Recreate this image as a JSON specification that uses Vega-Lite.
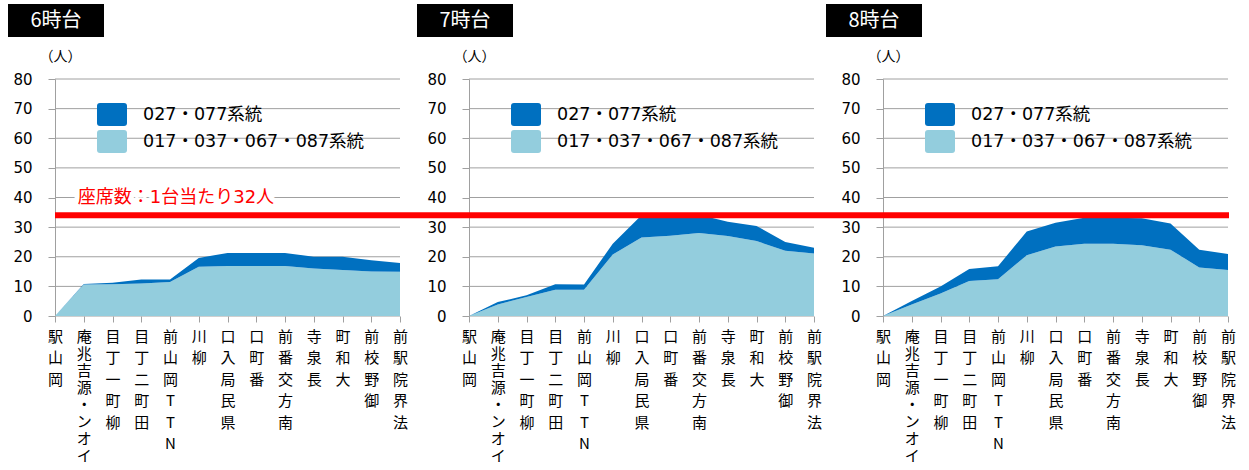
{
  "$schema": "https://vega.github.io/schema/vega-lite/v6.json",
  "background": "white",
  "padding": {"left": 8, "top": 4, "right": 5, "bottom": 0},
  "config": {
    "view": {"stroke": null},
    "font": "DejaVu Sans, Noto Sans CJK JP",
    "axisY": {"orient": "left", "grid": false, "domain": true, "domainColor": "#A0A0A0", "tickColor": "#A0A0A0", "tickSize": 7, "labelPadding": 16, "labelFlush": false, "labelFont": "DejaVu Sans", "labelFontSize": 15, "labelColor": "#000000", "titleAngle": 0, "titleX": 5, "titleY": -23, "titleAlign": "center", "titleBaseline": "middle", "titleFont": "Noto Sans CJK JP", "titleFontSize": 14, "titleFontWeight": "normal", "titleColor": "#000000"},
    "legend": {
      "orient": "none",
      "title": null,
      "symbolType": "M-0.8,-0.767H0.8Q1,-0.767,1,-0.567V0.567Q1,0.767,0.8,0.767H-0.8Q-1,0.767,-1,0.567V-0.567Q-1,-0.767,-0.8,-0.767Z",
      "symbolSize": 900,
      "symbolStrokeWidth": 0,
      "symbolOpacity": 1,
      "labelFont": "DejaVu Sans, Noto Sans CJK JP",
      "labelFontSize": 17.5,
      "labelColor": "#000000",
      "labelOffset": 16,
      "labelLimit": 400,
      "rowPadding": 0,
      "padding": 0
    }
  },
  "datasets": {
    "hours": [{"hour": "6時台"}, {"hour": "7時台"}, {"hour": "8時台"}],
    "grid": [{"g": 0}, {"g": 10}, {"g": 20}, {"g": 30}, {"g": 40}, {"g": 50}, {"g": 60}, {"g": 70}, {"g": 80}],
    "note": [{"label": "座席数：1台当たり32人"}],
    "main": [
      {"hour": "6時台", "station": "岡山駅", "series": "017・037・067・087系統", "value": 0},
      {"hour": "6時台", "station": "イオン・源吉兆庵", "series": "017・037・067・087系統", "value": 10.6},
      {"hour": "6時台", "station": "柳町一丁目", "series": "017・037・067・087系統", "value": 10.7},
      {"hour": "6時台", "station": "田町二丁目", "series": "017・037・067・087系統", "value": 11.0},
      {"hour": "6時台", "station": "NTT岡山前", "series": "017・037・067・087系統", "value": 11.5},
      {"hour": "6時台", "station": "柳川", "series": "017・037・067・087系統", "value": 16.6},
      {"hour": "6時台", "station": "県民局入口", "series": "017・037・067・087系統", "value": 16.9},
      {"hour": "6時台", "station": "番町口", "series": "017・037・067・087系統", "value": 16.9},
      {"hour": "6時台", "station": "南方交番前", "series": "017・037・067・087系統", "value": 16.9},
      {"hour": "6時台", "station": "長泉寺", "series": "017・037・067・087系統", "value": 16.0},
      {"hour": "6時台", "station": "大和町", "series": "017・037・067・087系統", "value": 15.5},
      {"hour": "6時台", "station": "御野校前", "series": "017・037・067・087系統", "value": 15.0},
      {"hour": "6時台", "station": "法界院駅前", "series": "017・037・067・087系統", "value": 14.9},
      {"hour": "6時台", "station": "岡山駅", "series": "027・077系統", "value": 0},
      {"hour": "6時台", "station": "イオン・源吉兆庵", "series": "027・077系統", "value": 0.2},
      {"hour": "6時台", "station": "柳町一丁目", "series": "027・077系統", "value": 0.5},
      {"hour": "6時台", "station": "田町二丁目", "series": "027・077系統", "value": 1.3},
      {"hour": "6時台", "station": "NTT岡山前", "series": "027・077系統", "value": 0.8},
      {"hour": "6時台", "station": "柳川", "series": "027・077系統", "value": 3.0},
      {"hour": "6時台", "station": "県民局入口", "series": "027・077系統", "value": 4.4},
      {"hour": "6時台", "station": "番町口", "series": "027・077系統", "value": 4.4},
      {"hour": "6時台", "station": "南方交番前", "series": "027・077系統", "value": 4.4},
      {"hour": "6時台", "station": "長泉寺", "series": "027・077系統", "value": 4.0},
      {"hour": "6時台", "station": "大和町", "series": "027・077系統", "value": 4.5},
      {"hour": "6時台", "station": "御野校前", "series": "027・077系統", "value": 3.8},
      {"hour": "6時台", "station": "法界院駅前", "series": "027・077系統", "value": 3.0},
      {"hour": "7時台", "station": "岡山駅", "series": "017・037・067・087系統", "value": 0},
      {"hour": "7時台", "station": "イオン・源吉兆庵", "series": "017・037・067・087系統", "value": 3.9},
      {"hour": "7時台", "station": "柳町一丁目", "series": "017・037・067・087系統", "value": 6.4},
      {"hour": "7時台", "station": "田町二丁目", "series": "017・037・067・087系統", "value": 8.9},
      {"hour": "7時台", "station": "NTT岡山前", "series": "017・037・067・087系統", "value": 8.9},
      {"hour": "7時台", "station": "柳川", "series": "017・037・067・087系統", "value": 20.8},
      {"hour": "7時台", "station": "県民局入口", "series": "017・037・067・087系統", "value": 26.5},
      {"hour": "7時台", "station": "番町口", "series": "017・037・067・087系統", "value": 27.1},
      {"hour": "7時台", "station": "南方交番前", "series": "017・037・067・087系統", "value": 28.0},
      {"hour": "7時台", "station": "長泉寺", "series": "017・037・067・087系統", "value": 27.0},
      {"hour": "7時台", "station": "大和町", "series": "017・037・067・087系統", "value": 25.3},
      {"hour": "7時台", "station": "御野校前", "series": "017・037・067・087系統", "value": 22.0},
      {"hour": "7時台", "station": "法界院駅前", "series": "017・037・067・087系統", "value": 21.1},
      {"hour": "7時台", "station": "岡山駅", "series": "027・077系統", "value": 0},
      {"hour": "7時台", "station": "イオン・源吉兆庵", "series": "027・077系統", "value": 0.8},
      {"hour": "7時台", "station": "柳町一丁目", "series": "027・077系統", "value": 0.6},
      {"hour": "7時台", "station": "田町二丁目", "series": "027・077系統", "value": 1.8},
      {"hour": "7時台", "station": "NTT岡山前", "series": "027・077系統", "value": 1.7},
      {"hour": "7時台", "station": "柳川", "series": "027・077系統", "value": 3.6},
      {"hour": "7時台", "station": "県民局入口", "series": "027・077系統", "value": 7.5},
      {"hour": "7時台", "station": "番町口", "series": "027・077系統", "value": 7.4},
      {"hour": "7時台", "station": "南方交番前", "series": "027・077系統", "value": 6.2},
      {"hour": "7時台", "station": "長泉寺", "series": "027・077系統", "value": 4.8},
      {"hour": "7時台", "station": "大和町", "series": "027・077系統", "value": 5.1},
      {"hour": "7時台", "station": "御野校前", "series": "027・077系統", "value": 3.0},
      {"hour": "7時台", "station": "法界院駅前", "series": "027・077系統", "value": 1.9},
      {"hour": "8時台", "station": "岡山駅", "series": "017・037・067・087系統", "value": 0},
      {"hour": "8時台", "station": "イオン・源吉兆庵", "series": "017・037・067・087系統", "value": 3.9},
      {"hour": "8時台", "station": "柳町一丁目", "series": "017・037・067・087系統", "value": 7.6},
      {"hour": "8時台", "station": "田町二丁目", "series": "017・037・067・087系統", "value": 11.8},
      {"hour": "8時台", "station": "NTT岡山前", "series": "017・037・067・087系統", "value": 12.4},
      {"hour": "8時台", "station": "柳川", "series": "017・037・067・087系統", "value": 20.5},
      {"hour": "8時台", "station": "県民局入口", "series": "017・037・067・087系統", "value": 23.5},
      {"hour": "8時台", "station": "番町口", "series": "017・037・067・087系統", "value": 24.4},
      {"hour": "8時台", "station": "南方交番前", "series": "017・037・067・087系統", "value": 24.4},
      {"hour": "8時台", "station": "長泉寺", "series": "017・037・067・087系統", "value": 23.9},
      {"hour": "8時台", "station": "大和町", "series": "017・037・067・087系統", "value": 22.4},
      {"hour": "8時台", "station": "御野校前", "series": "017・037・067・087系統", "value": 16.4},
      {"hour": "8時台", "station": "法界院駅前", "series": "017・037・067・087系統", "value": 15.5},
      {"hour": "8時台", "station": "岡山駅", "series": "027・077系統", "value": 0},
      {"hour": "8時台", "station": "イオン・源吉兆庵", "series": "027・077系統", "value": 1.2},
      {"hour": "8時台", "station": "柳町一丁目", "series": "027・077系統", "value": 2.4},
      {"hour": "8時台", "station": "田町二丁目", "series": "027・077系統", "value": 4.1},
      {"hour": "8時台", "station": "NTT岡山前", "series": "027・077系統", "value": 4.4},
      {"hour": "8時台", "station": "柳川", "series": "027・077系統", "value": 8.0},
      {"hour": "8時台", "station": "県民局入口", "series": "027・077系統", "value": 8.0},
      {"hour": "8時台", "station": "番町口", "series": "027・077系統", "value": 8.8},
      {"hour": "8時台", "station": "南方交番前", "series": "027・077系統", "value": 8.8},
      {"hour": "8時台", "station": "長泉寺", "series": "027・077系統", "value": 9.1},
      {"hour": "8時台", "station": "大和町", "series": "027・077系統", "value": 8.8},
      {"hour": "8時台", "station": "御野校前", "series": "027・077系統", "value": 6.0},
      {"hour": "8時台", "station": "法界院駅前", "series": "027・077系統", "value": 5.4}
    ]
  },
  "spacing": 12,
  "resolve": {"scale": {"x": "independent", "y": "independent", "color": "independent"}},
  "vconcat": [
    {
      "data": {"name": "hours"},
      "facet": {"column": {"field": "hour", "type": "nominal", "header": null}},
      "spacing": 313,
      "resolve": {"scale": {"x": "independent", "y": "independent"}},
      "spec": {
        "width": 96,
        "height": 33,
        "view": {"fill": "#000000", "stroke": null},
        "mark": {"type": "text", "color": "#ffffff", "fontSize": 20, "font": "Noto Sans CJK JP"},
        "encoding": {
          "text": {"field": "hour"},
          "x": {"field": "hour", "type": "nominal", "axis": null},
          "y": {"field": "hour", "type": "nominal", "axis": null}
        }
      }
    },
    {
      "spacing": 0,
      "bounds": "flush",
      "resolve": {"scale": {"x": "independent", "y": "independent", "color": "independent"}, "legend": {"color": "independent"}},
      "hconcat": [
        {
          "width": 47,
          "height": 237,
          "data": {"name": "note"},
          "mark": {"type": "text"},
          "encoding": {"text": {"value": ""}}
        },
        {
          "width": 414,
          "height": 237,
          "resolve": {"axis": {"x": "independent"}},
          "layer": [
            {
              "data": {"name": "grid"},
              "mark": {"type": "rule", "color": "#A0A0A0", "strokeWidth": 1},
              "encoding": {
                "y": {"field": "g", "type": "quantitative", "title": "（人）", "scale": {"domain": [0, 80], "nice": false}, "axis": {"values": [0, 10, 20, 30, 40, 50, 60, 70, 80]}},
                "x": {"datum": "岡山駅", "type": "nominal", "axis": {"orient": "bottom", "values": ["イオン・源吉兆庵"], "title": null, "domain": false, "grid": false, "ticks": true, "tickSize": 6, "tickColor": "#A0A0A0", "labelAngle": 0, "labelAlign": "center", "labelBaseline": "top", "labelPadding": 7, "labelLineHeight": 17, "labelFont": "Noto Sans CJK JP", "labelFontSize": 15, "labelColor": "#000000", "labelOverlap": false, "labelBound": false, "labelExpr": "reverse(split(datum.label, ''))"}},
                "x2": {"datum": "法界院駅前"}
              }
            },
            {
              "data": {"name": "main"},
              "transform": [{"filter": "datum.hour == '6時台'"}],
              "mark": {"type": "area", "opacity": 1},
              "encoding": {
                "x": {"field": "station", "type": "nominal", "scale": {"type": "point", "padding": 0, "range": [0, 345], "domain": ["岡山駅", "イオン・源吉兆庵", "柳町一丁目", "田町二丁目", "NTT岡山前", "柳川", "県民局入口", "番町口", "南方交番前", "長泉寺", "大和町", "御野校前", "法界院駅前"]}, "axis": {"orient": "bottom", "values": ["岡山駅", "柳町一丁目", "田町二丁目", "NTT岡山前", "柳川", "県民局入口", "番町口", "南方交番前", "長泉寺", "大和町", "御野校前", "法界院駅前"], "title": null, "domain": false, "grid": false, "ticks": true, "tickSize": 6, "tickColor": "#A0A0A0", "labelAngle": 0, "labelAlign": "center", "labelBaseline": "top", "labelPadding": 7, "labelLineHeight": 21.5, "labelFont": "Noto Sans CJK JP", "labelFontSize": 15, "labelColor": "#000000", "labelOverlap": false, "labelBound": false, "labelExpr": "reverse(split(datum.label, ''))"}},
                "y": {"field": "value", "type": "quantitative", "stack": "zero", "title": "（人）", "axis": {"values": [0, 10, 20, 30, 40, 50, 60, 70, 80]}},
                "color": {"field": "series", "type": "nominal", "scale": {"domain": ["027・077系統", "017・037・067・087系統"], "range": ["#0070C0", "#93CDDD"]}, "legend": {"legendX": 42, "legendY": 20.5}},
                "order": {"field": "series", "sort": "ascending"}
              }
            },
            {
              "data": {"name": "note"},
              "mark": {"type": "rule", "color": "#FF0000", "strokeWidth": 6},
              "encoding": {"y": {"datum": 34, "type": "quantitative", "title": "（人）", "axis": {"values": [0, 10, 20, 30, 40, 50, 60, 70, 80]}}}
            },
            {
              "data": {"name": "note"},
              "mark": {"type": "text", "align": "left", "baseline": "middle", "dx": -6, "fontSize": 18, "font": "DejaVu Sans, Noto Sans CJK JP", "fill": "#ffffff", "stroke": "#ffffff", "strokeWidth": 10, "strokeJoin": "round"},
              "encoding": {
                "text": {"field": "label"},
                "x": {"datum": "イオン・源吉兆庵", "type": "nominal", "axis": null},
                "y": {"datum": 40, "type": "quantitative", "title": "（人）", "axis": {"values": [0, 10, 20, 30, 40, 50, 60, 70, 80]}}
              }
            },
            {
              "data": {"name": "note"},
              "mark": {"type": "text", "align": "left", "baseline": "middle", "dx": -6, "fontSize": 18, "font": "DejaVu Sans, Noto Sans CJK JP", "color": "#FF0000"},
              "encoding": {
                "text": {"field": "label"},
                "x": {"datum": "イオン・源吉兆庵", "type": "nominal", "axis": null},
                "y": {"datum": 40, "type": "quantitative", "title": "（人）", "axis": {"values": [0, 10, 20, 30, 40, 50, 60, 70, 80]}}
              }
            }
          ]
        },
        {
          "width": 414,
          "height": 237,
          "resolve": {"axis": {"x": "independent"}},
          "layer": [
            {
              "data": {"name": "grid"},
              "mark": {"type": "rule", "color": "#A0A0A0", "strokeWidth": 1},
              "encoding": {
                "y": {"field": "g", "type": "quantitative", "title": "（人）", "scale": {"domain": [0, 80], "nice": false}, "axis": {"values": [0, 10, 20, 30, 40, 50, 60, 70, 80]}},
                "x": {"datum": "岡山駅", "type": "nominal", "axis": {"orient": "bottom", "values": ["イオン・源吉兆庵"], "title": null, "domain": false, "grid": false, "ticks": true, "tickSize": 6, "tickColor": "#A0A0A0", "labelAngle": 0, "labelAlign": "center", "labelBaseline": "top", "labelPadding": 7, "labelLineHeight": 17, "labelFont": "Noto Sans CJK JP", "labelFontSize": 15, "labelColor": "#000000", "labelOverlap": false, "labelBound": false, "labelExpr": "reverse(split(datum.label, ''))"}},
                "x2": {"datum": "法界院駅前"}
              }
            },
            {
              "data": {"name": "main"},
              "transform": [{"filter": "datum.hour == '7時台'"}],
              "mark": {"type": "area", "opacity": 1},
              "encoding": {
                "x": {"field": "station", "type": "nominal", "scale": {"type": "point", "padding": 0, "range": [0, 345], "domain": ["岡山駅", "イオン・源吉兆庵", "柳町一丁目", "田町二丁目", "NTT岡山前", "柳川", "県民局入口", "番町口", "南方交番前", "長泉寺", "大和町", "御野校前", "法界院駅前"]}, "axis": {"orient": "bottom", "values": ["岡山駅", "柳町一丁目", "田町二丁目", "NTT岡山前", "柳川", "県民局入口", "番町口", "南方交番前", "長泉寺", "大和町", "御野校前", "法界院駅前"], "title": null, "domain": false, "grid": false, "ticks": true, "tickSize": 6, "tickColor": "#A0A0A0", "labelAngle": 0, "labelAlign": "center", "labelBaseline": "top", "labelPadding": 7, "labelLineHeight": 21.5, "labelFont": "Noto Sans CJK JP", "labelFontSize": 15, "labelColor": "#000000", "labelOverlap": false, "labelBound": false, "labelExpr": "reverse(split(datum.label, ''))"}},
                "y": {"field": "value", "type": "quantitative", "stack": "zero", "title": "（人）", "axis": {"values": [0, 10, 20, 30, 40, 50, 60, 70, 80]}},
                "color": {"field": "series", "type": "nominal", "scale": {"domain": ["027・077系統", "017・037・067・087系統"], "range": ["#0070C0", "#93CDDD"]}, "legend": {"legendX": 42, "legendY": 20.5}},
                "order": {"field": "series", "sort": "ascending"}
              }
            },
            {
              "data": {"name": "note"},
              "mark": {"type": "rule", "color": "#FF0000", "strokeWidth": 6},
              "encoding": {"y": {"datum": 34, "type": "quantitative", "title": "（人）", "axis": {"values": [0, 10, 20, 30, 40, 50, 60, 70, 80]}}}
            }
          ]
        },
        {
          "width": 346,
          "height": 237,
          "resolve": {"axis": {"x": "independent"}},
          "layer": [
            {
              "data": {"name": "grid"},
              "mark": {"type": "rule", "color": "#A0A0A0", "strokeWidth": 1},
              "encoding": {
                "y": {"field": "g", "type": "quantitative", "title": "（人）", "scale": {"domain": [0, 80], "nice": false}, "axis": {"values": [0, 10, 20, 30, 40, 50, 60, 70, 80]}},
                "x": {"datum": "岡山駅", "type": "nominal", "axis": {"orient": "bottom", "values": ["イオン・源吉兆庵"], "title": null, "domain": false, "grid": false, "ticks": true, "tickSize": 6, "tickColor": "#A0A0A0", "labelAngle": 0, "labelAlign": "center", "labelBaseline": "top", "labelPadding": 7, "labelLineHeight": 17, "labelFont": "Noto Sans CJK JP", "labelFontSize": 15, "labelColor": "#000000", "labelOverlap": false, "labelBound": false, "labelExpr": "reverse(split(datum.label, ''))"}},
                "x2": {"datum": "法界院駅前"}
              }
            },
            {
              "data": {"name": "main"},
              "transform": [{"filter": "datum.hour == '8時台'"}],
              "mark": {"type": "area", "opacity": 1},
              "encoding": {
                "x": {"field": "station", "type": "nominal", "scale": {"type": "point", "padding": 0, "range": [0, 345], "domain": ["岡山駅", "イオン・源吉兆庵", "柳町一丁目", "田町二丁目", "NTT岡山前", "柳川", "県民局入口", "番町口", "南方交番前", "長泉寺", "大和町", "御野校前", "法界院駅前"]}, "axis": {"orient": "bottom", "values": ["岡山駅", "柳町一丁目", "田町二丁目", "NTT岡山前", "柳川", "県民局入口", "番町口", "南方交番前", "長泉寺", "大和町", "御野校前", "法界院駅前"], "title": null, "domain": false, "grid": false, "ticks": true, "tickSize": 6, "tickColor": "#A0A0A0", "labelAngle": 0, "labelAlign": "center", "labelBaseline": "top", "labelPadding": 7, "labelLineHeight": 21.5, "labelFont": "Noto Sans CJK JP", "labelFontSize": 15, "labelColor": "#000000", "labelOverlap": false, "labelBound": false, "labelExpr": "reverse(split(datum.label, ''))"}},
                "y": {"field": "value", "type": "quantitative", "stack": "zero", "title": "（人）", "axis": {"values": [0, 10, 20, 30, 40, 50, 60, 70, 80]}},
                "color": {"field": "series", "type": "nominal", "scale": {"domain": ["027・077系統", "017・037・067・087系統"], "range": ["#0070C0", "#93CDDD"]}, "legend": {"legendX": 42, "legendY": 20.5}},
                "order": {"field": "series", "sort": "ascending"}
              }
            },
            {
              "data": {"name": "note"},
              "mark": {"type": "rule", "color": "#FF0000", "strokeWidth": 6},
              "encoding": {"y": {"datum": 34, "type": "quantitative", "title": "（人）", "axis": {"values": [0, 10, 20, 30, 40, 50, 60, 70, 80]}}}
            }
          ]
        }
      ]
    }
  ]
}
